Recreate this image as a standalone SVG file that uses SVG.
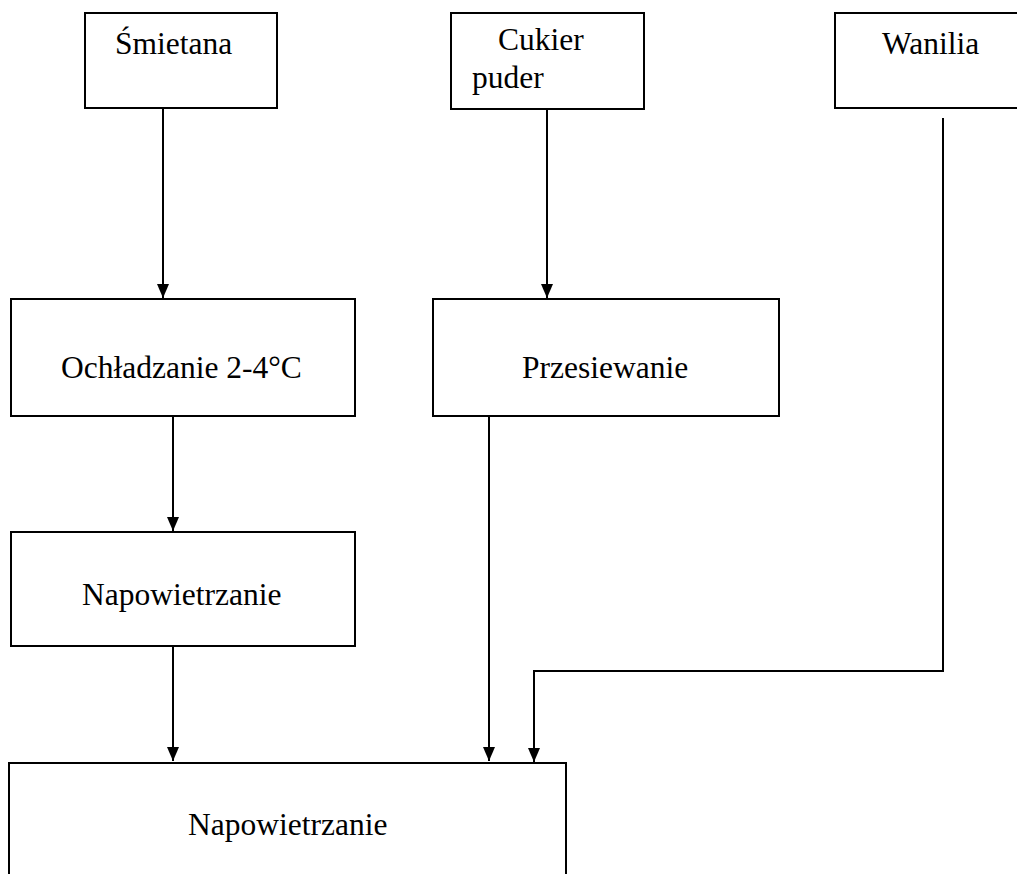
<svg xmlns="http://www.w3.org/2000/svg" width="1017" height="874" viewBox="0 0 1017 874">
  <style>
    .box { fill: #ffffff; stroke: #000000; stroke-width: 2; }
    .lbl { font-family: "Liberation Serif", "Times New Roman", serif; font-size: 31.5px; fill: #000000; }
    .wire { fill: none; stroke: #000000; stroke-width: 2; }
  </style>
  <defs>
    <marker id="arrow" markerUnits="userSpaceOnUse" markerWidth="14" markerHeight="12" refX="14" refY="6" orient="auto" viewBox="0 0 14 12">
      <path d="M0,0 L14,6 L0,12 z" fill="#000000"/>
    </marker>
  </defs>

  <rect width="1017" height="874" fill="#ffffff"/>

  <!-- Connectors -->
  <g id="connectors">
    <path class="wire" d="M163,108 V298" marker-end="url(#arrow)"/>
    <path class="wire" d="M547,109 V298" marker-end="url(#arrow)"/>
    <path class="wire" d="M173,416 V531" marker-end="url(#arrow)"/>
    <path class="wire" d="M173,646 V761" marker-end="url(#arrow)"/>
    <path class="wire" d="M489,416 V761" marker-end="url(#arrow)"/>
    <path class="wire" d="M943,118 V671 H534 V762" marker-end="url(#arrow)"/>
  </g>

  <!-- Ingredients -->
  <g id="node-smietana">
    <rect class="box" x="85" y="13" width="192" height="95"/>
    <text class="lbl" x="115" y="54">Śmietana</text>
  </g>
  <g id="node-cukier">
    <rect class="box" x="451" y="13" width="193" height="96"/>
    <text class="lbl" x="498" y="50">Cukier</text>
    <text class="lbl" x="472" y="88">puder</text>
  </g>
  <g id="node-wanilia">
    <rect class="box" x="835" y="13" width="200" height="95"/>
    <text class="lbl" x="882" y="54">Wanilia</text>
  </g>

  <!-- Processing steps -->
  <g id="node-ochladzanie">
    <rect class="box" x="11" y="299" width="344" height="117"/>
    <text class="lbl" x="61" y="378">Ochładzanie 2-4°C</text>
  </g>
  <g id="node-przesiewanie">
    <rect class="box" x="433" y="299" width="346" height="117"/>
    <text class="lbl" x="522" y="378">Przesiewanie</text>
  </g>
  <g id="node-napowietrzanie-1">
    <rect class="box" x="11" y="532" width="344" height="114"/>
    <text class="lbl" x="82" y="605">Napowietrzanie</text>
  </g>
  <g id="node-napowietrzanie-2">
    <rect class="box" x="9" y="763" width="557" height="140"/>
    <text class="lbl" x="188" y="835">Napowietrzanie</text>
  </g>
</svg>
